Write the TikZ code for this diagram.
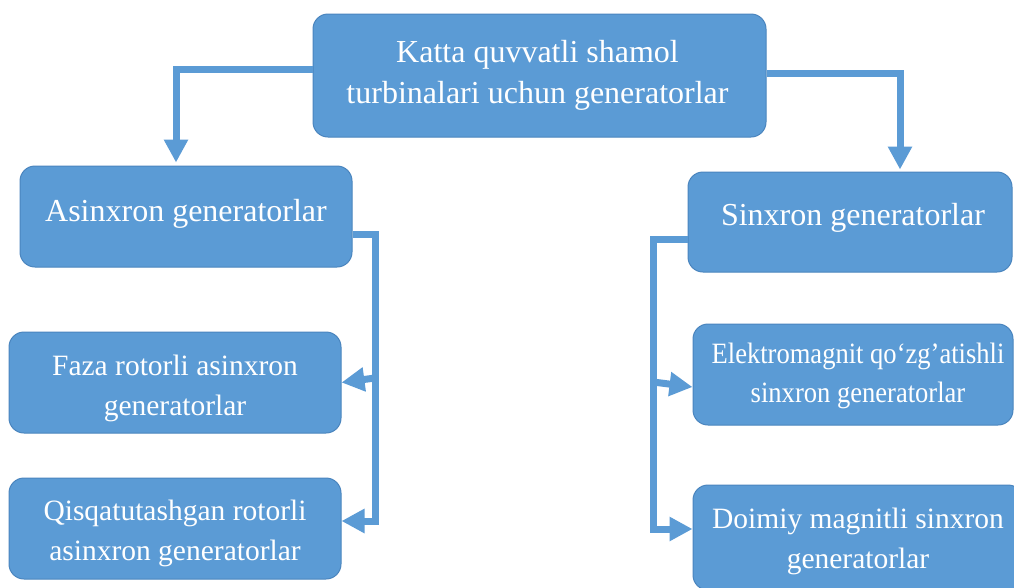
\documentclass[tikz,border=0pt]{standalone}
\usepackage{fontspec}
\setmainfont{Liberation Serif}
\newfontfamily\narrowserif{Liberation Serif}[FakeStretch=0.9]
\usetikzlibrary{arrows.meta}
\definecolor{boxblue}{HTML}{5B9BD5}
\definecolor{boxedge}{HTML}{4A85BE}
\definecolor{linkblue}{HTML}{5B9BD5}
\tikzset{
  box/.style={draw=boxedge, line width=1pt, fill=boxblue, rounded corners=15pt, inner sep=0pt},
  bigtxt/.style={text=white, inner sep=0pt, anchor=base, font=\fontsize{32}{38}\selectfont},
  smalltxt/.style={text=white, inner sep=0pt, anchor=base, font=\fontsize{29.5}{35}\selectfont},
  conn/.style={draw=linkblue, line width=7pt, line join=miter},
  arr/.style={conn, -{Triangle[width=23pt,length=23pt]}}
}
\begin{document}
\begin{tikzpicture}[x=1pt,y=-1pt]
\clip (0,0) rectangle (1014,587);
\fill[white] (0,0) rectangle (1014,587);
% boxes
\node[box, minimum width=453pt, minimum height=123pt] (top) at (539.5,75.5) {};
\node[box, minimum width=332pt, minimum height=101pt] (a) at (186,216.5) {};
\node[box, minimum width=324pt, minimum height=100pt] (s) at (850,222) {};
\node[box, minimum width=332pt, minimum height=101pt] (f) at (175,382.5) {};
\node[box, minimum width=332pt, minimum height=101pt] (q) at (175,528.5) {};
\node[box, minimum width=320pt, minimum height=101pt] (e) at (853,374.5) {};
\node[box, minimum width=330pt, minimum height=105pt] (d) at (858,537.5) {};
% texts
\node[bigtxt] (top1) at (537.5,62) {Katta quvvatli shamol};
\node[bigtxt] (top2) at (537.5,103) {turbinalari uchun generatorlar};
\node[bigtxt] (at) at (186,221) {Asinxron generatorlar};
\node[bigtxt] (st) at (853,225) {Sinxron generatorlar};
\node[smalltxt] (f1) at (175,375) {Faza rotorli asinxron};
\node[smalltxt] (f2) at (175,415) {generatorlar};
\node[smalltxt] (q1) at (175,520) {Qisqatutashgan rotorli};
\node[smalltxt] (q2) at (175,560) {asinxron generatorlar};
\node[smalltxt, font=\narrowserif\fontsize{29.5}{35}\selectfont] (e1) at (858,363) {Elektromagnit qo‘zg’atishli};
\node[smalltxt, font=\narrowserif\fontsize{29.5}{35}\selectfont] (e2) at (858,402) {sinxron generatorlar};
\node[smalltxt] (d1) at (858,528) {Doimiy magnitli sinxron};
\node[smalltxt] (d2) at (858,568) {generatorlar};
% spine coordinates
\coordinate (lb) at (375,521);
\coordinate (lm) at (375,378);
\coordinate (rb) at (653,529);
\coordinate (rm) at (653,382);
% connectors
\draw[arr] ([yshift=6.5pt]top.west) -| ([xshift=-10pt,yshift=3pt]a.north);
\draw[arr] ([yshift=2.5pt]top.east) -| ([xshift=50pt,yshift=2pt]s.north);
\draw[arr] ([yshift=-17.5pt]a.east) -| (lb) -- ([yshift=7.5pt]q.east);
\draw[arr] (lm) -- (f.east);
\draw[arr] ([yshift=-17pt]s.west) -| (rb) -- ([yshift=8.5pt]d.west);
\draw[arr] (rm) -- ([yshift=-12.5pt]e.west);
\end{tikzpicture}
\end{document}
